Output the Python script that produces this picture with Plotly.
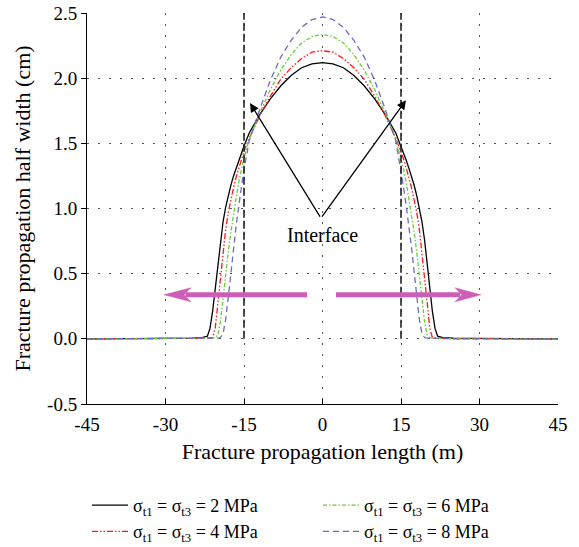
import plotly.graph_objects as go

# Fracture propagation length (m)
length_m = [-45, -40, -35, -30, -25, -23, -22, -21.5, -21, -20.5, -20, -19.5, -19, -18.5, -18,
            -17.5, -17, -16.5, -16, -15.5, -15, -14, -12, -10, -8, -6, -4, -2, 0,
            2, 4, 6, 8, 10, 12, 14, 15, 15.5, 16, 16.5, 17, 17.5, 18, 18.5, 19, 19.5,
            20, 20.5, 21, 21.5, 22, 23, 25, 30, 35, 40, 45]

# Fracture half width (cm) for each tensile stress level
width_2mpa = [0, 0, 0, 0.003, 0.006, 0.01, 0.02, 0.08, 0.21, 0.38, 0.56, 0.76, 0.90, 1.01, 1.10,
              1.18, 1.25, 1.31, 1.37, 1.42, 1.48, 1.58, 1.72, 1.84, 1.94, 2.02, 2.08, 2.11, 2.12,
              2.11, 2.08, 2.02, 1.94, 1.84, 1.72, 1.58, 1.48, 1.42, 1.37, 1.31, 1.25, 1.18, 1.10,
              1.01, 0.90, 0.76, 0.56, 0.38, 0.21, 0.08, 0.02, 0.01, 0.006, 0.003, 0, 0, 0]
width_4mpa = [0, 0, 0, 0, 0.002, 0.004, 0.006, 0.008, 0.01, 0.08, 0.28, 0.48, 0.67, 0.84, 0.97,
              1.07, 1.16, 1.24, 1.31, 1.38, 1.44, 1.54, 1.71, 1.86, 1.99, 2.08, 2.15, 2.20, 2.21,
              2.20, 2.15, 2.08, 1.99, 1.86, 1.71, 1.54, 1.44, 1.38, 1.31, 1.24, 1.16, 1.07, 0.97,
              0.84, 0.67, 0.48, 0.28, 0.08, 0.01, 0.008, 0.006, 0.004, 0.002, 0, 0, 0, 0]
width_6mpa = [0, 0, 0, 0, 0, 0.002, 0.003, 0.004, 0.005, 0.01, 0.03, 0.13, 0.32, 0.50, 0.67,
              0.82, 0.96, 1.08, 1.20, 1.30, 1.39, 1.53, 1.73, 1.91, 2.06, 2.18, 2.27, 2.32, 2.335,
              2.32, 2.27, 2.18, 2.06, 1.91, 1.73, 1.53, 1.39, 1.30, 1.20, 1.08, 0.96, 0.82, 0.67,
              0.50, 0.32, 0.13, 0.03, 0.01, 0.005, 0.004, 0.003, 0.002, 0, 0, 0, 0, 0]
width_8mpa = [0, 0, 0, 0, 0, 0, 0.001, 0.002, 0.003, 0.005, 0.006, 0.01, 0.04, 0.15, 0.32,
              0.52, 0.70, 0.87, 1.02, 1.16, 1.30, 1.52, 1.76, 1.98, 2.16, 2.29, 2.39, 2.45, 2.47,
              2.45, 2.39, 2.29, 2.16, 1.98, 1.76, 1.52, 1.30, 1.16, 1.02, 0.87, 0.70, 0.52, 0.32,
              0.15, 0.04, 0.01, 0.006, 0.005, 0.003, 0.002, 0.001, 0, 0, 0, 0, 0, 0]

x_ticks = [-45, -30, -15, 0, 15, 30, 45]
x_tick_text = ["-45", "-30", "-15", "0", "15", "30", "45"]
y_ticks = [-0.5, 0, 0.5, 1.0, 1.5, 2.0, 2.5]
y_tick_text = ["-0.5", "0.0", "0.5", "1.0", "1.5", "2.0", "2.5"]

series = [
    ("σ<sub>t1</sub> = σ<sub>t3</sub> = 2 MPa", width_2mpa, "#000000", "solid", 1),
    ("σ<sub>t1</sub> = σ<sub>t3</sub> = 4 MPa", width_4mpa, "#ff1a1a", "6px,2px,1.5px,2px,1.5px,2px", 3),
    ("σ<sub>t1</sub> = σ<sub>t3</sub> = 6 MPa", width_6mpa, "#66cc33", "4px,2px,1.5px,2px", 2),
    ("σ<sub>t1</sub> = σ<sub>t3</sub> = 8 MPa", width_8mpa, "#6b6bc8", "6px,4px", 4),
]

fig = go.Figure()
for name, ys, color, dash, rank in series:
    fig.add_trace(go.Scatter(
        x=length_m, y=ys, mode="lines", name=name,
        line=dict(color=color, width=1.3, dash=dash),
        legendrank=rank,
    ))

# Interface positions
shapes = []
for xi in (-15, 15):
    shapes.append(dict(type="line", xref="x", yref="y", x0=xi, x1=xi, y0=0, y1=2.5,
                       line=dict(color="#222222", width=1.6, dash="8px,3px")))

# Thick magenta propagation arrows
mag = "#cc5fb5"
yc, dh = 0.338, 0.054
shapes.append(dict(type="line", xref="x", yref="y", x0=-2.96, x1=-26.2, y0=yc, y1=yc,
                   line=dict(color=mag, width=5)))
shapes.append(dict(type="path", xref="x", yref="y",
                   path=f"M -30.29 {yc} L -25.13 {yc + dh} L -26.47 {yc} L -25.13 {yc - dh} Z",
                   fillcolor=mag, line=dict(color=mag, width=0.5)))
shapes.append(dict(type="line", xref="x", yref="y", x0=2.58, x1=26.3, y0=yc, y1=yc,
                   line=dict(color=mag, width=5)))
shapes.append(dict(type="path", xref="x", yref="y",
                   path=f"M 30.27 {yc} L 25.32 {yc + dh} L 26.6 {yc} L 25.32 {yc - dh} Z",
                   fillcolor=mag, line=dict(color=mag, width=0.5)))

annotations = [
    dict(x=-13.85, y=1.81, ax=-0.3, ay=0.926, xref="x", yref="y", axref="x", ayref="y",
         showarrow=True, arrowhead=2, arrowsize=1.4, arrowwidth=1.3, arrowcolor="#000", text=""),
    dict(x=15.95, y=1.83, ax=-0.3, ay=0.926, xref="x", yref="y", axref="x", ayref="y",
         showarrow=True, arrowhead=2, arrowsize=1.4, arrowwidth=1.3, arrowcolor="#000", text=""),
    dict(x=0, y=0.8, xref="x", yref="y", text="Interface", showarrow=False,
         font=dict(size=20, color="#000")),
]

grid = dict(showgrid=True, gridcolor="#555555", gridwidth=1, griddash="2px,9px", zeroline=False)

fig.update_layout(
    width=579, height=547,
    margin=dict(l=87, r=21, t=13, b=143, autoexpand=False),
    paper_bgcolor="white", plot_bgcolor="white",
    font=dict(family="Liberation Serif", size=18, color="#000"),
    shapes=shapes, annotations=annotations,
    xaxis=dict(range=[-45, 45], tickvals=x_ticks, ticktext=x_tick_text,
               ticks="inside", ticklen=5, tickcolor="#000", tickfont=dict(size=19),
               ticklabelstandoff=3,
               showline=True, linecolor="#000", linewidth=1,
               title=dict(text="Fracture propagation length (m)", standoff=9), **grid),
    yaxis=dict(range=[-0.5, 2.5], tickvals=y_ticks, ticktext=y_tick_text,
               ticks="outside", ticklen=5, tickcolor="#000", tickfont=dict(size=19),
               showline=True, linecolor="#000", linewidth=1,
               title=dict(text="Fracture propagation half width (cm)", standoff=10), **grid),
    legend=dict(orientation="h", x=0, xanchor="left", yref="container", y=0.11, yanchor="top",
                entrywidth=180, entrywidthmode="pixels", font=dict(size=18), itemwidth=36,
                traceorder="normal", bgcolor="rgba(0,0,0,0)", tracegroupgap=0),
)

fig.write_html("out.html")
